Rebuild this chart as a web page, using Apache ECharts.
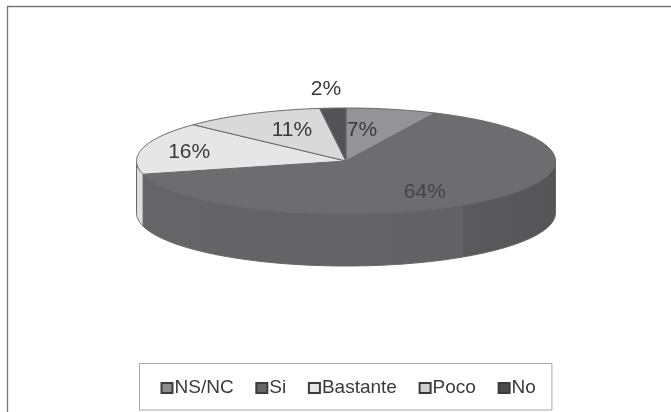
<!DOCTYPE html>
<html>
<head>
<meta charset="utf-8">
<style>
  html, body { margin: 0; padding: 0; background: #fff; overflow: hidden; }
  #chart { width: 671px; height: 412px; }
</style>
<script src="https://cdn.jsdelivr.net/npm/echarts@6/dist/echarts.min.js"></script>
</head>
<body>
<div id="chart"></div>
<script>
// Survey answers, in percent, clockwise from twelve o'clock
const categories = ['NS/NC', 'Si', 'Bastante', 'Poco', 'No'];
const percentages = [7, 64, 16, 11, 2];

// Slice appearance, same order as the categories
const topColors = ['#949496', '#6d6d6f', '#e6e6e6', '#d9d9d9', '#535355'];
const markerColors = ['#8c8c8c', '#666668', '#e6e6e6', '#cfcfcf', '#4c4c4e'];
const wallColors = ['#77777a', '#5f5f61', '#dedede', '#c0c0c0', '#444446'];

// Where each label sits, as a fraction of the ellipse radii along the slice's mid angle
const labelFit = [[0.35, 0.59], [0.59, 0.76], [0.773, 0.68], [0.568, 0.645], [1.52, 1.36]];

// Flattened pie geometry
const pie = { cx: 346, cy: 161, rx: 209.5, ry: 53, depth: 52 };
const total = percentages.reduce((a, b) => a + b, 0);

function rimPoint(deg, drop) {
  const a = deg * Math.PI / 180;
  return [pie.cx + pie.rx * Math.sin(a), pie.cy - pie.ry * Math.cos(a) + (drop || 0)];
}

function arc(from, to, drop) {
  const pts = [];
  const steps = Math.max(2, Math.ceil(Math.abs(to - from)));
  for (let i = 0; i <= steps; i++) pts.push(rimPoint(from + (to - from) * i / steps, drop));
  return pts;
}

function sliceRenderer(index) {
  return function (params, api) {
    const before = percentages.slice(0, index).reduce((a, b) => a + b, 0);
    const start = before / total * 360;
    const end = (before + api.value(0)) / total * 360;
    const mid = (start + end) / 2;
    const children = [];

    // Side wall: only the part of the rim facing the viewer (90deg to 270deg)
    const wStart = Math.max(start, 90);
    const wEnd = Math.min(end, 270);
    if (wEnd > wStart) {
      const wall = arc(wStart, wEnd, 0).concat(arc(wStart, wEnd, pie.depth).reverse());
      children.push({
        type: 'polygon',
        shape: { points: wall },
        style: {
          fill: index === 1 ? {
            type: 'linear', x: 0, y: 0, x2: 1, y2: 0,
            colorStops: [
              { offset: 0, color: '#656567' },
              { offset: 0.775, color: '#626264' },
              { offset: 0.775, color: '#5a5a5c' },
              { offset: 1, color: '#555557' }
            ]
          } : wallColors[index],
          stroke: '#666668',
          lineWidth: 1
        }
      });
    }

    // Top face
    const face = [[pie.cx, pie.cy]].concat(arc(start, end, 0));
    children.push({
      type: 'polygon',
      shape: { points: face },
      style: { fill: topColors[index], stroke: '#6a6a6c', lineWidth: 1 }
    });

    // Percentage label
    const m = mid * Math.PI / 180;
    children.push({
      type: 'text',
      z2: 10,
      style: {
        x: pie.cx + pie.rx * Math.sin(m) * labelFit[index][0],
        y: pie.cy - pie.ry * Math.cos(m) * labelFit[index][1],
        text: api.value(0) + '%',
        align: 'center',
        verticalAlign: 'middle',
        fontFamily: '"Liberation Sans", Arial, sans-serif',
        fontSize: 21,
        fill: index === 1 ? '#444446' : '#3a3a3a'
      }
    });
    return { type: 'group', children: children };
  };
}

const chart = echarts.init(document.getElementById('chart'), null, { renderer: 'canvas' });
chart.setOption({
  animation: false,
  backgroundColor: '#ffffff',
  legend: {
    left: 139.5,
    top: 363.5,
    orient: 'horizontal',
    selectedMode: false,
    padding: [15, 16, 12.5, 21],
    itemGap: 21.7,
    itemWidth: 11,
    itemHeight: 10,
    borderColor: '#a8a8a8',
    borderWidth: 1,
    backgroundColor: '#ffffff',
    textStyle: {
      fontFamily: '"Liberation Sans", Arial, sans-serif',
      fontSize: 19,
      color: '#3a3a3a',
      padding: [0, 0, 0, -3]
    },
    data: categories.map((name, i) => ({
      name: name,
      icon: 'rect',
      itemStyle: { color: markerColors[i], borderColor: '#3c3c3e', borderWidth: 2 }
    }))
  },
  graphic: [
    { type: 'line', silent: true, shape: { x1: 7, y1: 6.5, x2: 671, y2: 6.5 }, style: { stroke: '#777', lineWidth: 1.3 } },
    { type: 'line', silent: true, shape: { x1: 7.5, y1: 6, x2: 7.5, y2: 412 }, style: { stroke: '#777', lineWidth: 1.3 } }
  ],
  series: categories.map((name, i) => ({
    type: 'custom',
    name: name,
    coordinateSystem: 'none',
    itemStyle: { color: markerColors[i] },
    renderItem: sliceRenderer(i),
    data: [[percentages[i]]]
  }))
});
</script>
</body>
</html>
